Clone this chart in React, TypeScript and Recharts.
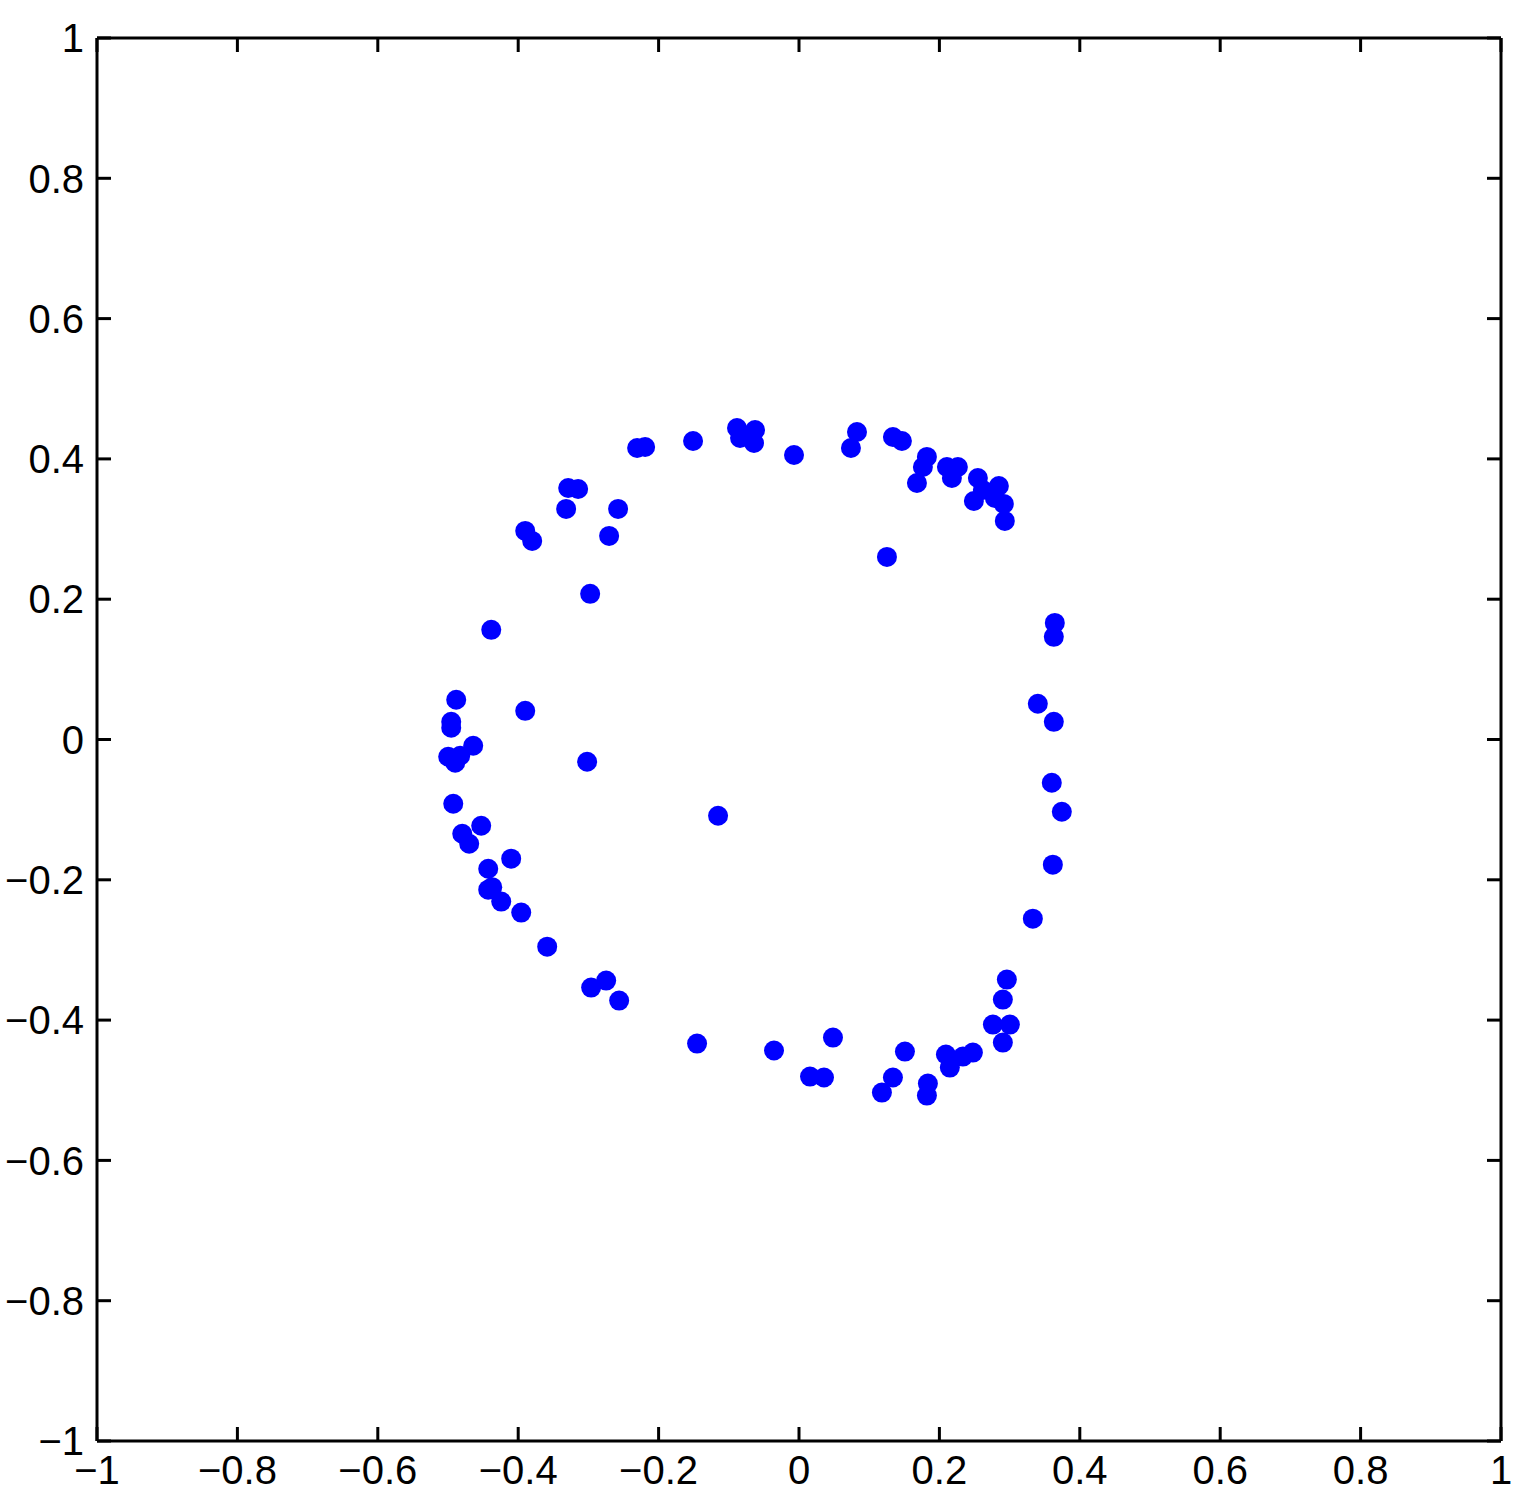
// Scatter of points on a ring, MATLAB-style boxed axes with inward ticks.
import { Scatter, ScatterChart, XAxis, YAxis } from 'recharts'

const xValues = [
  -0.2306, -0.2192, -0.1509, -0.0883, -0.084, -0.0626, -0.0641, -0.0071, 0.074, 0.0826,
  0.1338, 0.1466, 0.1822, 0.1765, 0.168, 0.2107, 0.2263, 0.2178, 0.2548, 0.2619,
  0.2491, 0.2847, 0.279, 0.2918, 0.2932, 0.1253, -0.3288, -0.3146, -0.3317, -0.2577,
  -0.39, -0.3801, -0.2705, -0.2975, -0.4384, -0.4883, -0.39, -0.4954, -0.4954, -0.4641,
  -0.4997, -0.4826, -0.4897, -0.3018, -0.4925, -0.4527, -0.4797, -0.4698, -0.41, -0.4427,
  -0.4427, -0.437, -0.4242, -0.3957, -0.3587, -0.2961, -0.2747, -0.2562, -0.1452, -0.0356,
  0.0484, 0.0157, 0.0356, 0.1181, 0.1338, 0.1509, 0.1836, 0.1822, 0.2093, 0.2149,
  0.2335, 0.2477, 0.2762, 0.3004, 0.2904, 0.2961, 0.2904, 0.3331, 0.3616, 0.3744,
  0.3601, 0.363, 0.3402, 0.3644, 0.363, -0.1153,
]

const yValues = [
  0.4155, 0.417, 0.4255, 0.444, 0.4298, 0.4412, 0.4227, 0.4056, 0.4156, 0.4383,
  0.4312, 0.4255, 0.4028, 0.3885, 0.3657, 0.3885, 0.3885, 0.3728, 0.3728, 0.3557,
  0.34, 0.3614, 0.3443, 0.3358, 0.3116, 0.2603, 0.3585, 0.3571, 0.3287, 0.3287,
  0.2973, 0.2831, 0.2902, 0.2076, 0.1563, 0.0566, 0.0409, 0.0252, 0.0167, -0.0089,
  -0.0246, -0.0232, -0.0331, -0.0317, -0.0916, -0.1229, -0.1343, -0.1486, -0.1699, -0.1842,
  -0.2141, -0.2105, -0.2311, -0.2467, -0.2953, -0.3537, -0.3437, -0.3722, -0.4335, -0.4434,
  -0.4249, -0.4805, -0.4819, -0.5033, -0.4819, -0.4449, -0.4905, -0.5076, -0.4491, -0.4677,
  -0.452, -0.4463, -0.4064, -0.4064, -0.4321, -0.3423, -0.3708, -0.2554, -0.1784, -0.103,
  -0.0617, 0.0252, 0.0509, 0.1662, 0.1463, -0.1087,
]

const axisTicks = [-1, -0.8, -0.6, -0.4, -0.2, 0, 0.2, 0.4, 0.6, 0.8, 1]

const points = xValues.map((x, i) => ({ x, y: yValues[i] }))

const fmt = (v: number) => {
  const s = String(Math.round(v * 10) / 10)
  return s.startsWith('-') ? '\u2212' + s.slice(1) : s
}
const blank = () => ''

const tickStyle = {
  fontSize: 40,
  fill: '#000',
  fontFamily: '"Liberation Sans", Arial, sans-serif',
}
const lineStyle = { stroke: '#000', strokeWidth: 3 }

const Dot = (props: { cx?: number; cy?: number }) => (
  <circle cx={props.cx} cy={props.cy} r={10} fill="#0000FF" />
)

export default function App() {
  return (
    <div style={{ position: 'absolute', left: 0, top: 0, background: '#fff' }}>
      <ScatterChart
        width={1529}
        height={1492}
        margin={{ top: 37, right: 27, bottom: 50, left: 96 }}
      >
        <XAxis
          xAxisId="b"
          type="number"
          dataKey="x"
          domain={[-1, 1]}
          ticks={axisTicks}
          height={1}
          tickSize={-14}
          tickMargin={29}
          tickFormatter={fmt}
          tick={tickStyle}
          axisLine={lineStyle}
          tickLine={lineStyle}
          interval={0}
          allowDataOverflow
        />
        <XAxis
          xAxisId="t"
          orientation="top"
          type="number"
          dataKey="x"
          domain={[-1, 1]}
          ticks={axisTicks}
          height={1}
          tickSize={-14}
          tickFormatter={blank}
          axisLine={lineStyle}
          tickLine={lineStyle}
          interval={0}
          allowDataOverflow
        />
        <YAxis
          yAxisId="l"
          type="number"
          dataKey="y"
          domain={[-1, 1]}
          ticks={axisTicks}
          width={1}
          tickSize={-14}
          tickMargin={27}
          tickFormatter={fmt}
          tick={tickStyle}
          axisLine={lineStyle}
          tickLine={lineStyle}
          interval={0}
          allowDataOverflow
        />
        <YAxis
          yAxisId="r"
          orientation="right"
          type="number"
          dataKey="y"
          domain={[-1, 1]}
          ticks={axisTicks}
          width={1}
          tickSize={-14}
          tickFormatter={blank}
          axisLine={lineStyle}
          tickLine={lineStyle}
          interval={0}
          allowDataOverflow
        />
        <Scatter
          xAxisId="b"
          yAxisId="l"
          data={points}
          shape={Dot}
          isAnimationActive={false}
        />
      </ScatterChart>
    </div>
  )
}
